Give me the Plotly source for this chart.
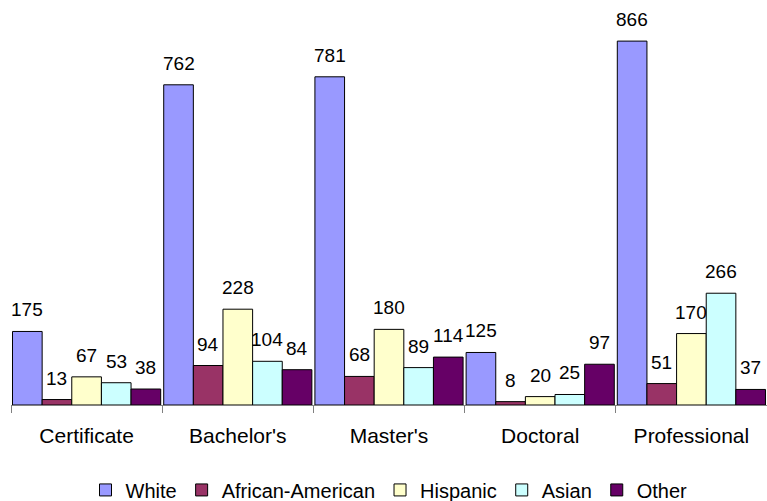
import plotly.graph_objects as go

categories = ["Certificate", "Bachelor's", "Master's", "Doctoral", "Professional"]
series_names = ["White", "African-American", "Hispanic", "Asian", "Other"]
white = [175, 762, 781, 125, 866]
african_american = [13, 94, 68, 8, 51]
hispanic = [67, 228, 180, 20, 170]
asian = [53, 104, 89, 25, 266]
other = [38, 84, 114, 97, 37]

series_values = [white, african_american, hispanic, asian, other]
colors = ["#9999FF", "#993366", "#FFFFCC", "#CCFFFF", "#660066"]

FONT = "Liberation Sans, Arial, sans-serif"
BARGAP = 0.02

fig = go.Figure()
for name, vals, col in zip(series_names, series_values, colors):
    fig.add_trace(go.Bar(
        name=name, x=categories, y=vals,
        marker=dict(color=col, line=dict(color="#000000", width=1)),
    ))

# value labels above each bar, placed at the grouped bar offsets
n = len(series_names)
width = (1.0 - BARGAP) / n
for i, vals in enumerate(series_values):
    for j, v in enumerate(vals):
        fig.add_annotation(
            x=j - (1.0 - BARGAP) / 2 + width * (i + 0.5), y=v, xref="x", yref="y",
            text=str(v), showarrow=False, yanchor="bottom", yshift=9,
            font=dict(family=FONT, size=19, color="#000000"),
        )

fig.update_layout(
    width=767, height=501,
    margin=dict(l=11, r=0, t=10, b=96, autoexpand=False),
    paper_bgcolor="white", plot_bgcolor="white",
    barmode="group", bargap=BARGAP, bargroupgap=0,
    font=dict(family=FONT, size=20, color="#000000"),
    showlegend=True,
    legend=dict(orientation="h", x=0.5, xanchor="center",
                yref="paper", y=-0.215, yanchor="middle",
                font=dict(size=20), itemwidth=30, tracegroupgap=0),
    xaxis=dict(
        type="category", range=[-0.5, 4.5], automargin=False,
        showline=True, linecolor="#808080", linewidth=1,
        ticks="outside", tickson="boundaries", ticklen=7, tickcolor="#808080",
        ticklabelstandoff=12,
        showgrid=False, tickfont=dict(size=21),
    ),
    yaxis=dict(range=[0, 940], visible=False, showgrid=False, zeroline=False),
)

fig.write_html("out.html")
